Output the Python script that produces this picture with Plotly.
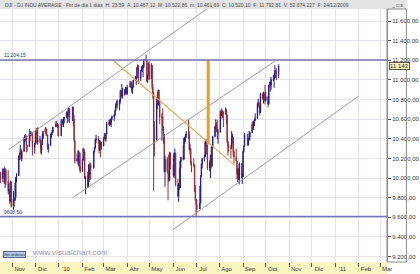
import pandas as pd
import plotly.graph_objects as go

# ---------------- daily OHLC (DJI, 16-Oct-2009 .. 18-Oct-2010) ----------------
open_ = [
 10060, 9996, 10092, 10042, 9950, 10080, 9972, 9868, 9881, 9763, 9961,
 9713, 9786, 9772, 9803, 10004, 10024, 10225, 10248, 10290, 10197, 10271, 10405, 10436, 10425, 10331, 10319, 10450, 10434, 10461, 10309,
 10345, 10470, 10453, 10369, 10388, 10386, 10285, 10338, 10406, 10471, 10500, 10453, 10440, 10309, 10330, 10415, 10464, 10467, 10521, 10548, 10544, 10548,
 10430, 10584, 10565, 10571, 10606, 10620, 10663, 10628, 10680, 10706, 10608, 10720, 10600, 10385, 10175, 10194, 10190, 10235, 10120,
 10068, 10185, 10296, 10268, 10000, 10011, 9910, 10057, 10037, 10140, 10100, 10270, 10310, 10390, 10402, 10381, 10283, 10370, 10320,
 10326, 10405, 10406, 10396, 10446, 10566, 10552, 10563, 10566, 10612, 10625, 10643, 10686, 10733, 10779, 10740, 10786, 10887, 10836, 10842, 10850, 10895, 10906,
 10857, 10927, 10972, 10968, 10897, 10928, 10997, 11005, 11019, 11123, 11144, 11018, 11092, 11117, 11124, 11134, 11204, 11205, 10991, 11045, 11167,
 11010, 11150, 10925, 10867, 10519, 10386, 10780, 10742, 10896, 10780, 10620, 10626, 10510, 10442, 10065, 10192, 10065, 10044, 9974, 10258,
 10136, 10025, 10248, 10254, 9932, 9814, 9940, 9900, 10170, 10212, 10192, 10404, 10410, 10434, 10451, 10442, 10294, 10298, 10152, 10143, 10135, 9870,
 9773, 9732, 9687, 9745, 10018, 10138, 10198, 10216, 10363, 10366, 10358, 10098, 10154, 10230, 10120, 10322, 10425, 10525, 10537, 10497, 10465,
 10468, 10674, 10636, 10680, 10674, 10654, 10697, 10643, 10377, 10319, 10303, 10302, 10405, 10415, 10271, 10214, 10174, 10039, 10060, 9986, 10149, 10010,
 10016, 10270, 10321, 10446, 10341, 10388, 10416, 10463, 10543, 10527, 10573, 10595, 10608, 10753, 10760, 10738, 10664, 10859, 10812, 10857, 10835,
 10789, 10829, 10752, 10944, 10968, 10948, 11006, 11010, 11020, 11096, 11095, 11062,
]
high = [
 10062, 10099, 10096, 10119, 10101, 10095, 10080, 9950, 9890, 9975, 9965,
 9870, 9795, 9950, 10010, 10050, 10230, 10260, 10340, 10300, 10280, 10420, 10440, 10450, 10425, 10340, 10500, 10460, 10480, 10462, 10360,
 10490, 10510, 10510, 10520, 10430, 10390, 10350, 10450, 10480, 10520, 10510, 10500, 10440, 10350, 10450, 10470, 10490, 10523, 10580, 10580, 10560, 10550,
 10604, 10590, 10600, 10620, 10620, 10680, 10665, 10710, 10720, 10710, 10730, 10725, 10640, 10390, 10250, 10290, 10280, 10270, 10260,
 10200, 10310, 10300, 10270, 10020, 10060, 10140, 10090, 10160, 10150, 10280, 10320, 10400, 10440, 10430, 10390, 10390, 10375, 10370,
 10420, 10460, 10460, 10450, 10570, 10590, 10600, 10600, 10615, 10640, 10650, 10700, 10760, 10790, 10800, 10800, 10900, 10890, 10960, 10920, 10910, 10930, 10920,
 10950, 10990, 10990, 10980, 10940, 11000, 11040, 11030, 11130, 11160, 11150, 11100, 11140, 11150, 11150, 11210, 11258, 11210, 11050, 11180, 11190,
 11170, 11150, 10960, 10880, 10580, 10810, 10880, 10900, 10900, 10790, 10660, 10710, 10530, 10450, 10230, 10215, 10070, 10240, 10270, 10260,
 10230, 10260, 10300, 10260, 9990, 9950, 10100, 10180, 10215, 10330, 10410, 10420, 10450, 10480, 10594, 10480, 10350, 10300, 10170, 10200, 10140, 9930,
 9790, 9780, 9920, 10030, 10150, 10200, 10240, 10380, 10400, 10390, 10360, 10180, 10240, 10320, 10340, 10430, 10530, 10600, 10570, 10590, 10500,
 10690, 10690, 10710, 10690, 10680, 10720, 10700, 10650, 10380, 10350, 10340, 10480, 10450, 10420, 10280, 10300, 10175, 10100, 10100, 10160, 10150, 10050,
 10280, 10330, 10460, 10450, 10410, 10480, 10470, 10570, 10580, 10580, 10600, 10660, 10770, 10810, 10780, 10740, 10870, 10870, 10880, 10870, 10950,
 10880, 10840, 10950, 10980, 10990, 11030, 11050, 11060, 11150, 11100, 11120, 11160,
]
low = [
 9950, 9960, 9997, 9940, 9900, 9930, 9840, 9830, 9740, 9763, 9700,
 9678, 9710, 9770, 9803, 9960, 10024, 10185, 10240, 10180, 10170, 10271, 10370, 10380, 10260, 10270, 10319, 10380, 10430, 10230, 10250,
 10345, 10440, 10350, 10340, 10360, 10250, 10240, 10338, 10400, 10470, 10430, 10430, 10290, 10260, 10330, 10410, 10440, 10461, 10520, 10530, 10510, 10425,
 10430, 10520, 10545, 10520, 10560, 10610, 10560, 10570, 10660, 10560, 10580, 10530, 10370, 10150, 10160, 10140, 10120, 10080, 10050,
 10067, 10180, 10220, 9990, 9835, 9900, 9910, 9960, 9980, 9990, 10100, 10260, 10300, 10360, 10350, 10250, 10283, 10210, 10290,
 10326, 10400, 10380, 10370, 10446, 10540, 10530, 10540, 10520, 10590, 10580, 10630, 10686, 10720, 10710, 10690, 10760, 10810, 10830, 10810, 10840, 10860, 10850,
 10850, 10920, 10930, 10870, 10860, 10920, 10990, 10950, 11019, 11100, 10960, 10990, 11090, 11080, 11030, 11120, 11190, 10980, 10970, 11045, 11000,
 11010, 10900, 10810, 9870, 10220, 10386, 10700, 10740, 10760, 10550, 10380, 10480, 10350, 10060, 9910, 10060, 9774, 9960, 9974, 10090,
 10010, 10000, 10180, 9915, 9810, 9758, 9880, 9900, 10100, 10180, 10190, 10350, 10370, 10410, 10400, 10280, 10240, 10130, 10060, 10110, 9860, 9770,
 9614, 9650, 9687, 9740, 10018, 10100, 10170, 10216, 10320, 10240, 10080, 10070, 10000, 10100, 10120, 10300, 10420, 10500, 10470, 10400, 10350,
 10468, 10600, 10630, 10610, 10520, 10650, 10550, 10360, 10230, 10270, 10200, 10302, 10350, 10230, 10150, 10170, 9990, 9960, 9980, 9936, 10000, 9940,
 10016, 10260, 10321, 10330, 10330, 10380, 10390, 10463, 10490, 10490, 10530, 10580, 10600, 10730, 10710, 10640, 10664, 10800, 10760, 10790, 10750,
 10780, 10720, 10752, 10930, 10880, 10900, 10990, 10920, 11020, 11020, 11000, 11020,
]
close = [
 9995, 10092, 10041, 9949, 10081, 9972, 9868, 9882, 9762, 9962, 9713,
 9789, 9771, 9802, 10005, 10023, 10226, 10247, 10291, 10197, 10270, 10406, 10437, 10427, 10332, 10318, 10450, 10434, 10464, 10310, 10345,
 10471, 10452, 10366, 10389, 10390, 10286, 10337, 10405, 10471, 10501, 10452, 10441, 10308, 10329, 10414, 10464, 10466, 10520, 10547, 10545, 10548, 10428,
 10584, 10572, 10574, 10607, 10618, 10663, 10627, 10681, 10710, 10609, 10725, 10604, 10389, 10173, 10196, 10194, 10236, 10120, 10067,
 10185, 10297, 10270, 10002, 10012, 9908, 10058, 10038, 10144, 10099, 10268, 10310, 10393, 10402, 10383, 10282, 10374, 10321, 10325,
 10404, 10406, 10396, 10444, 10567, 10553, 10564, 10567, 10611, 10625, 10643, 10685, 10734, 10779, 10742, 10785, 10888, 10836, 10841, 10850, 10895, 10907, 10857,
 10927, 10973, 10969, 10897, 10927, 10997, 11005, 11019, 11123, 11144, 11019, 11092, 11117, 11125, 11134, 11204, 11205, 10991, 11045, 11167, 11009,
 11151, 10926, 10868, 10520, 10380, 10785, 10748, 10896, 10782, 10620, 10625, 10510, 10444, 10068, 10193, 10067, 10043, 9975, 10259, 10137,
 10025, 10249, 10255, 9932, 9816, 9940, 9899, 10173, 10212, 10191, 10405, 10410, 10434, 10450, 10443, 10294, 10299, 10153, 10144, 10139, 9870, 9774,
 9732, 9686, 9744, 10018, 10139, 10198, 10216, 10363, 10366, 10359, 10098, 10155, 10230, 10120, 10322, 10425, 10525, 10537, 10497, 10467, 10466,
 10674, 10636, 10680, 10675, 10654, 10698, 10644, 10378, 10320, 10303, 10302, 10405, 10415, 10271, 10213, 10174, 10040, 10060, 9985, 10150, 10010, 10015,
 10270, 10320, 10448, 10341, 10387, 10416, 10462, 10544, 10527, 10573, 10595, 10608, 10753, 10761, 10739, 10662, 10860, 10812, 10858, 10835, 10788,
 10830, 10751, 10944, 10968, 10948, 11006, 11010, 11020, 11096, 11095, 11062, 11143,
]

market_holidays = ["2009-11-26", "2009-12-25", "2010-01-01", "2010-01-18", "2010-02-15",
                   "2010-04-02", "2010-05-31", "2010-07-05", "2010-09-06"]
first_day, last_day = "2009-10-16", "2010-10-18"

# ---------------- axis ticks ----------------
month_ticks = ["2009-11-01", "2009-12-01", "2010-01-01", "2010-02-01", "2010-03-01", "2010-04-01",
               "2010-05-01", "2010-06-01", "2010-07-01", "2010-08-01", "2010-09-01", "2010-10-01",
               "2010-11-01", "2010-12-01", "2011-01-01", "2011-02-01", "2011-03-01"]
month_labels = ["Nov", "Dic", "'10", "Feb", "Mar", "Abr", "May", "Jun", "Jul", "Ago", "Sep", "Oct",
                "Nov", "Dic", "'11", "Feb", "Mar"]

# ---------------- drawn studies ----------------
level_values = [11204.15, 9608.50]
level_labels = ["11.204,15", "9608,50"]

upper_chan_x = ["2009-10-27", "2010-07-17"]
upper_chan_y = [10291, 11733]
mid_chan_x = ["2010-01-19", "2010-10-13"]
mid_chan_y = [9800, 11191]
low_chan_x = ["2010-05-31", "2011-01-31"]
low_chan_y = [9472, 10833]
orange_diag_x = ["2010-03-15", "2010-08-21"]
orange_diag_y = [11191, 10130]
orange_vert_x = ["2010-07-17", "2010-07-17"]
orange_vert_y = [11204, 10342]

last_value = 11143
header = ("DJI - DJ INDU AVERAGE - Fin de dia 1 dias  H: 23:59  A: 10.467,12  M: 10.522,86  "
          "m: 10.461,69  C: 10.520,10  F: 11.792,51  V: 52.674.227  F: 24/12/2009")

# ---------------- build ----------------
days = pd.bdate_range(first_day, last_day)
days = days[~days.isin(pd.to_datetime(market_holidays))]
n = min(len(days), len(close))
days = days[:n]

fig = go.Figure()
fig.add_trace(go.Candlestick(
    x=days, open=open_[:n], high=high[:n], low=low[:n], close=close[:n],
    increasing=dict(line=dict(color="#1c1c96", width=1), fillcolor="#1c1c96"),
    decreasing=dict(line=dict(color="#9a2c2c", width=1), fillcolor="#9a2c2c"),
    whiskerwidth=0, showlegend=False, hoverinfo="skip",
))

for xs, ys in [(upper_chan_x, upper_chan_y), (mid_chan_x, mid_chan_y), (low_chan_x, low_chan_y)]:
    fig.add_trace(go.Scatter(x=xs, y=ys, mode="lines", line=dict(color="#929292", width=0.9),
                             showlegend=False, hoverinfo="skip"))
fig.add_trace(go.Scatter(x=orange_diag_x, y=orange_diag_y, mode="lines",
                         line=dict(color="#e8a448", width=1.1), showlegend=False, hoverinfo="skip"))
fig.add_trace(go.Scatter(x=orange_vert_x, y=orange_vert_y, mode="lines",
                         line=dict(color="#f09a28", width=3), showlegend=False, hoverinfo="skip"))

W, H = 420, 274
ml, mr, mt, mb = 0, 21, 9, 12
pw, ph = W - ml - mr, H - mt - mb

shapes = []
# header bar
shapes.append(dict(type="rect", xref="paper", yref="paper", x0=0, x1=(W - ml) / pw,
                   y0=1, y1=1 + mt / ph, fillcolor="#e4e4e4", line=dict(width=0), layer="below"))
# bottom date strip
shapes.append(dict(type="rect", xref="paper", yref="paper", x0=0, x1=1,
                   y0=-mb / ph, y1=0, fillcolor="#fbf6bf", line=dict(width=0), layer="below"))
# right axis panel border
shapes.append(dict(type="rect", xref="paper", yref="paper", x0=1, x1=1 + (mr - 1) / pw,
                   y0=0, y1=1, fillcolor="rgba(0,0,0,0)", line=dict(color="#8a8a8a", width=1)))
for v in level_values:
    shapes.append(dict(type="line", xref="paper", yref="y", x0=0, x1=1, y0=v, y1=v,
                       line=dict(color="#7474b4", width=1.5)))

annotations = [
    dict(text=header, xref="paper", yref="paper", x=0.008, y=1 + mt / ph, xanchor="left",
         yanchor="top", showarrow=False, font=dict(size=5, color="#444444")),
    dict(text="_ □ x", xref="paper", yref="paper", x=1.005, y=1 + mt / ph, xanchor="left",
         yanchor="top", showarrow=False, font=dict(size=5, color="#333333")),
    dict(text=f"{last_value:,.0f}".replace(",", "."), xref="paper", yref="y", x=1, y=last_value,
         xanchor="left", yanchor="middle", xshift=2, showarrow=False,
         bgcolor="#fbf6bf", bordercolor="#555555", borderwidth=1, borderpad=0,
         font=dict(size=6, color="#222222")),
    dict(text="Sin órdenes", xref="paper", yref="paper", x=0.008, y=-mb / ph + 16 / ph,
         xanchor="left", yanchor="bottom", showarrow=False, bgcolor="#b8c8e8",
         bordercolor="#556688", borderwidth=1, borderpad=0, font=dict(size=4, color="#223366")),
    dict(text="www.visualchart.com", xref="paper", yref="paper", x=0.078, y=-mb / ph + 15 / ph,
         xanchor="left", yanchor="bottom", showarrow=False, font=dict(size=8, color="#9a9aaa")),
]
for v, t in zip(level_values, level_labels):
    annotations.append(dict(text=t, xref="paper", yref="y", x=0.004, y=v, xanchor="left",
                            yanchor="bottom", yshift=0, showarrow=False,
                            font=dict(size=5, color="#333366")))

fig.update_layout(
    width=W, height=H, margin=dict(l=ml, r=mr, t=mt, b=mb, pad=0),
    paper_bgcolor="white", plot_bgcolor="white", separators=",.",
    font=dict(family="Liberation Sans, Arial, sans-serif"),
    shapes=shapes, annotations=annotations, showlegend=False,
    xaxis=dict(type="date", range=["2009-10-15 05:00", "2011-03-10"],
               tickmode="array", tickvals=month_ticks, ticktext=month_labels,
               showgrid=True, gridcolor="#e2e2ea", gridwidth=1, zeroline=False,
               ticks="outside", ticklen=4, tickcolor="#555555", ticklabelshift=7,
               ticklabelstandoff=-3,
               tickfont=dict(size=6, color="#333333"), showline=False,
               rangeslider=dict(visible=False)),
    yaxis=dict(side="right", range=[9145, 11723], tickmode="linear", tick0=0, dtick=200,
               tickformat=",.2f", showgrid=True, gridcolor="#e2e2ea", gridwidth=1,
               zeroline=False, ticks="outside", ticklen=3, tickcolor="#555555",
               tickfont=dict(size=6, color="#333333"), showline=True, linecolor="#8a8a8a",
               linewidth=1),
)

fig.write_html("out.html")
